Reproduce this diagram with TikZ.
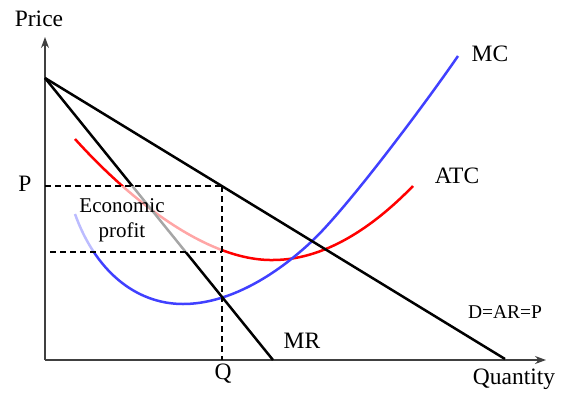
\documentclass[tikz,border=0pt]{standalone}
\usepackage{fontspec}
\setmainfont{Liberation Serif}
\usetikzlibrary{arrows.meta}
\begin{document}
\begin{tikzpicture}[x=1pt,y=-1pt,
  axis/.style={draw=black!75,line width=1.1pt,-{Stealth[length=11pt,width=8pt]}},
  demand/.style={draw=black,line width=2.5pt},
  mccurve/.style={draw={rgb,255:red,64;green,64;blue,255},line width=2.5pt},
  atccurve/.style={draw=red,line width=2.5pt},
  guide/.style={draw=black,line width=1.3pt,dash pattern=on 6pt off 4pt},
  lbl/.style={font=\fontsize{23.5}{27}\selectfont,inner sep=0pt},
  small/.style={font=\fontsize{19.5}{23}\selectfont,inner sep=0pt},
  mid/.style={font=\fontsize{21}{25}\selectfont,inner sep=0pt,align=center}]
\useasboundingbox (0,0) rectangle (578,402);
% axes
\coordinate (O) at (45,360);
\coordinate (ytop) at (45,37);
\coordinate (xend) at (546,360);
\draw[axis] (O) -- (ytop);
\draw[axis] (O) -- (xend);
% curves
\draw[atccurve] (75,139) .. controls (130,200) and (207,261) .. (273,260)
                         .. controls (330,260) and (380,220) .. (413,186);
\draw[mccurve] (75,214) .. controls (95,270) and (135,304) .. (183,304)
                        .. controls (225,304) and (270,280) .. (310,243)
                        .. controls (345,211) and (425,104) .. (458,56);
% demand and MR
\coordinate (top) at (45,78);
\coordinate (Dend) at (505,359);
\coordinate (MRend) at (273,360);
\draw[demand] (top) -- (Dend);
\draw[demand] (top) -- (MRend);
% economic profit overlay
\fill[white,opacity=0.65] (46,186) rectangle (222,252);
% guides
\coordinate (Pl) at (45,186);
\coordinate (Pr) at (222,186);
\coordinate (Cl) at (50,252);
\coordinate (Cr) at (222,252);
\coordinate (Qb) at (222,360);
\draw[guide] (Pl) -- (Pr);
\draw[guide] (Cl) -- (Cr);
\draw[guide] (Pr) -- (Qb);
% labels
\node[lbl] (price) at (39,19) {Price};
\node[lbl] (plbl) at (25,184) {P};
\node[lbl] (qlbl) at (223,374) {Q};
\node[lbl] (mrlbl) at (302,341) {MR};
\node[lbl] (mclbl) at (490,54) {MC};
\node[lbl] (atclbl) at (457,176) {ATC};
\node[lbl] (qtylbl) at (514,379) {Quantity};
\node[small] (dlbl) at (505,312) {D=AR=P};
\node[mid] (profit) at (122,220) {Economic\\profit};
\end{tikzpicture}
\end{document}
